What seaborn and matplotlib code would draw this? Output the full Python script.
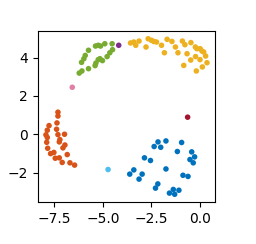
import numpy as np
import pandas as pd
import seaborn as sns
import matplotlib
matplotlib.use("Agg")
import matplotlib.pyplot as plt

# cluster points
blue_x = [-2.15, -1.74, -2.35, -2.01, -0.93, -1.15, -0.41, -0.26, -0.50, -0.33, -2.85, -2.54, -1.74,
          -3.61, -3.40, -2.97, -3.13, -2.16, -2.28, -0.86, -0.60, -1.56, -1.36, -1.07, -1.29]
blue_y = [-0.40, -0.35, -0.64, -0.68, -0.43, -0.90, -0.92, -1.18, -1.32, -1.49, -1.23, -1.37, -1.81,
          -2.08, -1.86, -2.08, -2.34, -2.59, -2.81, -2.14, -2.20, -3.07, -2.88, -2.92, -3.13]

orange_x = [-7.32, -7.32, -7.37, -7.78, -7.39, -7.87, -6.98, -7.94, -7.32, -7.87, -7.22, -7.25,
            -7.90, -6.96, -7.06, -7.85, -7.53, -7.70, -6.84, -7.46, -7.25, -7.10, -6.70, -6.46]
orange_y = [1.15, 0.95, 0.59, 0.45, 0.26, 0.21, 0.00, -0.03, -0.02, -0.17, -0.28, -0.40,
            -0.42, -0.56, -0.71, -0.73, -0.95, -1.01, -1.06, -1.25, -1.23, -1.47, -1.49, -1.61]

yellow_x = [-3.57, -3.40, -3.30, -3.13, -2.77, -2.66, -2.49, -2.37, -2.23, -1.97, -1.82, -1.68,
            -1.43, -1.25, -1.12, -0.89, -0.76, -0.65, -0.45, -0.46, -0.22, -0.14, -0.21, 0.03,
            0.12, 0.21, 0.31, 0.02, 0.38, 0.14, -0.17, -0.82]
yellow_y = [4.76, 4.81, 4.64, 4.86, 4.55, 4.98, 4.90, 4.84, 4.81, 4.64, 4.25, 4.95,
            4.84, 4.55, 4.25, 4.86, 4.67, 4.20, 4.78, 3.87, 4.55, 4.46, 4.05, 4.46,
            4.34, 4.29, 4.08, 3.89, 3.73, 3.51, 3.30, 3.59]

green_x = [-6.22, -6.08, -5.74, -6.10, -5.98, -5.91, -5.74, -5.38, -5.24, -5.12, -4.90, -4.52,
           -4.50, -4.64, -4.78, -5.15, -5.24, -5.36, -5.40, -5.02]
green_y = [3.19, 3.30, 3.42, 3.75, 3.94, 4.11, 4.38, 4.60, 4.64, 4.60, 4.72, 4.72,
           4.41, 4.25, 4.05, 3.94, 3.89, 3.71, 3.58, 3.84]

purple_x, purple_y = [-4.18], [4.64]
cyan_x, cyan_y = [-4.73], [-1.84]
red_x, red_y = [-0.62], [0.89]
pink_x, pink_y = [-6.58], [2.45]

groups = {
    "blue": (blue_x, blue_y, "#0072BD"),
    "orange": (orange_x, orange_y, "#D95319"),
    "yellow": (yellow_x, yellow_y, "#EDB120"),
    "purple": (purple_x, purple_y, "#7E2F8E"),
    "green": (green_x, green_y, "#77AC30"),
    "cyan": (cyan_x, cyan_y, "#4DBEEE"),
    "red": (red_x, red_y, "#A2142F"),
    "pink": (pink_x, pink_y, "#E17FA4"),
}

rows = []
for name, (xs, ys, _) in groups.items():
    for x, y in zip(xs, ys):
        rows.append({"x": x, "y": y, "cluster": name})
df = pd.DataFrame(rows)
palette = {k: v[2] for k, v in groups.items()}

fig = plt.figure(figsize=(2.56, 2.44), dpi=100)
ax = fig.add_axes([0.148, 0.172, 0.692, 0.701])
sns.scatterplot(data=df, x="x", y="y", hue="cluster", palette=palette,
                s=16, linewidth=0, legend=False, ax=ax)
ax.set_xlabel("")
ax.set_ylabel("")
ax.set_xticks([-7.5, -5.0, -2.5, 0.0])
ax.set_yticks([-2, 0, 2, 4])
fig.savefig("out.png", dpi=100)
